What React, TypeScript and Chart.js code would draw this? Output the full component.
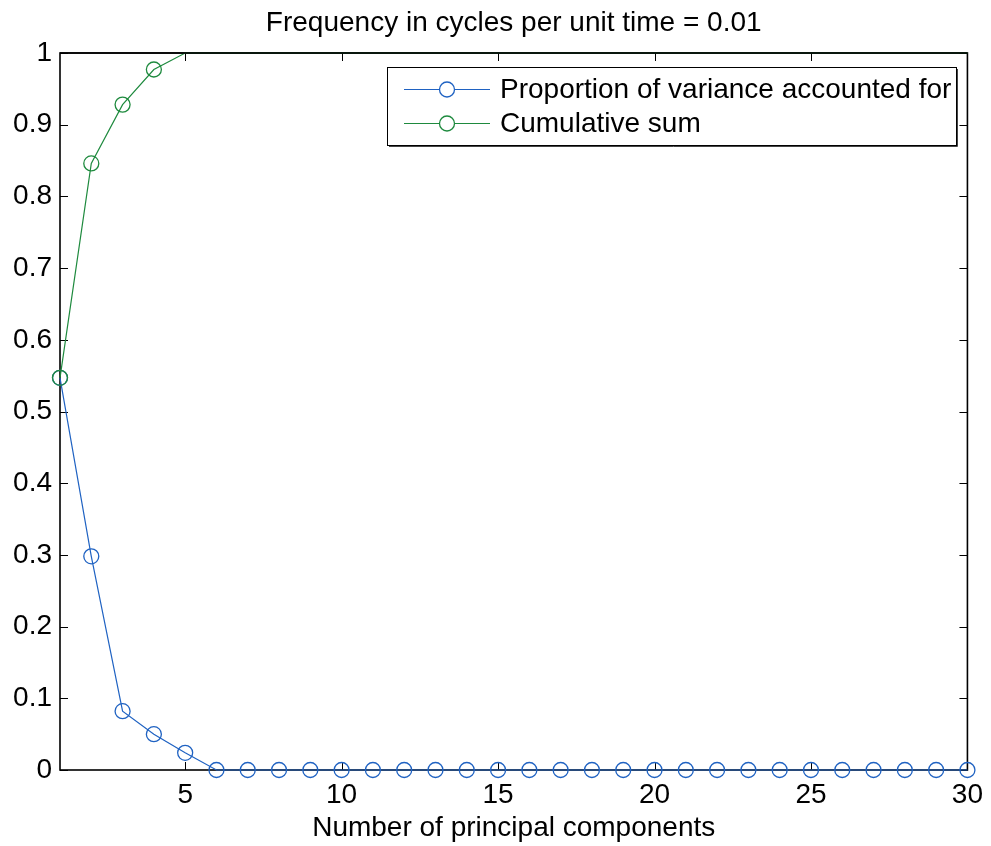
import React, { useEffect, useRef } from "react";
import { Chart, registerables } from "chart.js";

Chart.register(...registerables);

const components = [1, 2, 3, 4, 5, 6, 7, 8, 9, 10, 11, 12, 13, 14, 15, 16, 17, 18, 19, 20, 21, 22, 23, 24, 25, 26, 27, 28, 29, 30];
const proportion = [0.547, 0.298, 0.082, 0.05, 0.024, 0, 0, 0, 0, 0, 0, 0, 0, 0, 0, 0, 0, 0, 0, 0, 0, 0, 0, 0, 0, 0, 0, 0, 0, 0];
const cumulative = [0.547, 0.846, 0.928, 0.977, 1, 1, 1, 1, 1, 1, 1, 1, 1, 1, 1, 1, 1, 1, 1, 1, 1, 1, 1, 1, 1, 1, 1, 1, 1, 1];
const xTickValues = [5, 10, 15, 20, 25, 30];
const yTickValues = [0, 0.1, 0.2, 0.3, 0.4, 0.5, 0.6, 0.7, 0.8, 0.9, 1];
const seriesLabels = ["Proportion of variance accounted for", "Cumulative sum"];
const titleText = "Frequency in cycles per unit time = 0.01";
const xTitle = "Number of principal components";

const BLUE = "#1f62c2";
const GREEN = "#1e8a3e";
const FONT = "'Liberation Sans', Arial, Helvetica, sans-serif";
const FS = 28;

const boxPlugin = {
  id: "matlabBox",
  beforeDatasetsDraw(chart: any) {
    const { ctx, chartArea: a, scales } = chart;
    ctx.save();
    ctx.strokeStyle = "#000";
    ctx.lineWidth = 1.6;
    ctx.strokeRect(a.left, a.top, a.right - a.left, a.bottom - a.top);
    ctx.lineWidth = 1;
    const tl = 8;
    ctx.beginPath();
    for (const v of yTickValues) {
      const y = Math.round(scales.y.getPixelForValue(v)) + 0.5;
      ctx.moveTo(a.left, y);
      ctx.lineTo(a.left + tl, y);
      ctx.moveTo(a.right, y);
      ctx.lineTo(a.right - tl, y);
    }
    for (const v of xTickValues) {
      const x = Math.round(scales.x.getPixelForValue(v)) + 0.5;
      ctx.moveTo(x, a.bottom);
      ctx.lineTo(x, a.bottom - tl);
      ctx.moveTo(x, a.top);
      ctx.lineTo(x, a.top + tl);
    }
    ctx.stroke();
    ctx.restore();
  },
  afterDatasetsDraw(chart: any) {
    const { ctx, chartArea: a } = chart;
    ctx.save();
    ctx.strokeStyle = "#000";
    ctx.lineWidth = 1.6;
    ctx.beginPath();
    ctx.moveTo(a.left, a.top);
    ctx.lineTo(a.right, a.top);
    ctx.stroke();
    ctx.restore();
  },
  afterDraw(chart: any) {
    const { ctx, chartArea: a } = chart;
    ctx.save();
    // title
    ctx.fillStyle = "#000";
    ctx.font = `${FS}px ${FONT}`;
    ctx.textAlign = "center";
    ctx.textBaseline = "middle";
    ctx.fillText(titleText, (a.left + a.right) / 2, 23);
    // legend
    const bx = 387, by = 67, bw = 569, bh = 78;
    ctx.fillStyle = "#fff";
    ctx.fillRect(bx, by, bw, bh);
    ctx.strokeStyle = "#000";
    ctx.lineWidth = 1;
    ctx.strokeRect(bx + 0.5, by + 0.5, bw, bh);
    ctx.strokeStyle = "#444";
    ctx.beginPath();
    ctx.moveTo(bx + bw + 1.5, by + 2);
    ctx.lineTo(bx + bw + 1.5, by + bh + 1.5);
    ctx.lineTo(bx + 2, by + bh + 1.5);
    ctx.stroke();
    const rows = [by + 22, by + 56];
    chart.data.datasets.forEach((ds: any, i: number) => {
      const y = rows[i] + 0.5;
      ctx.strokeStyle = ds.borderColor;
      ctx.lineWidth = 1.2;
      ctx.beginPath();
      ctx.moveTo(bx + 17, y);
      ctx.lineTo(bx + 103, y);
      ctx.stroke();
      ctx.fillStyle = "#fff";
      ctx.beginPath();
      ctx.arc(bx + 60, y, 7.5, 0, Math.PI * 2);
      ctx.fill();
      ctx.lineWidth = 1.3;
      ctx.stroke();
      ctx.fillStyle = "#000";
      ctx.font = `${FS}px ${FONT}`;
      ctx.textAlign = "left";
      ctx.textBaseline = "middle";
      ctx.fillText(ds.label, bx + 113, y + 1);
    });
    ctx.restore();
  },
};

export default function App() {
  const ref = useRef<HTMLCanvasElement | null>(null);
  useEffect(() => {
    document.body.style.margin = "0";
    const canvas = ref.current!;
    const chart = new Chart(canvas, {
      type: "line",
      data: {
        datasets: [
          {
            label: seriesLabels[0],
            data: components.map((c, i) => ({ x: c, y: proportion[i] })),
            borderColor: BLUE,
            backgroundColor: "rgba(0,0,0,0)",
            borderWidth: 1.2,
            pointRadius: 7.5,
            pointBorderWidth: 1.3,
            pointBorderColor: BLUE,
            pointBackgroundColor: "rgba(0,0,0,0)",
            tension: 0,
            clip: false as any,
            order: 1,
          },
          {
            label: seriesLabels[1],
            data: components.map((c, i) => ({ x: c, y: cumulative[i] })),
            borderColor: GREEN,
            backgroundColor: "rgba(0,0,0,0)",
            borderWidth: 1.2,
            pointRadius: (ctx: any) => (ctx.raw && ctx.raw.y >= 1 ? 0 : 7.5),
            pointBorderWidth: 1.3,
            pointBorderColor: GREEN,
            pointBackgroundColor: "rgba(0,0,0,0)",
            tension: 0,
            clip: false as any,
            order: 0,
          },
        ],
      },
      options: {
        animation: false,
        responsive: false,
        maintainAspectRatio: false,
        layout: { padding: { left: 0, right: 23, top: 53, bottom: 0 } },
        plugins: {
          legend: { display: false },
          title: { display: false },
          tooltip: { enabled: false },
        },
        scales: {
          x: {
            type: "linear",
            min: 1,
            max: 30,
            grid: { display: false, drawTicks: false },
            border: { display: false },
            afterBuildTicks: (s: any) => {
              s.ticks = xTickValues.map((v) => ({ value: v }));
            },
            afterFit: (s: any) => {
              s.height = 76;
            },
            ticks: {
              padding: 8,
              color: "#000",
              font: { family: FONT, size: FS },
              maxRotation: 0,
              autoSkip: false,
              callback: (v: any) => String(v),
            },
            title: {
              display: true,
              text: xTitle,
              color: "#000",
              font: { family: FONT, size: FS },
              padding: { top: 0, bottom: 1 },
            },
          },
          y: {
            type: "linear",
            min: 0,
            max: 1,
            grid: { display: false, drawTicks: false },
            border: { display: false },
            afterBuildTicks: (s: any) => {
              s.ticks = yTickValues.map((v) => ({ value: v }));
            },
            afterFit: (s: any) => {
              s.width = 60;
            },
            ticks: {
              padding: 8,
              color: "#000",
              font: { family: FONT, size: FS },
              autoSkip: false,
              callback: (v: any) => String(Math.round(v * 10) / 10),
            },
          },
        },
      },
      plugins: [boxPlugin],
    });
    return () => chart.destroy();
  }, []);
  return (
    <div style={{ position: "absolute", left: 0, top: 0, width: 991, height: 846, background: "#fff" }}>
      <canvas ref={ref} width={991} height={846} style={{ width: 991, height: 846, display: "block" }} />
    </div>
  );
}
